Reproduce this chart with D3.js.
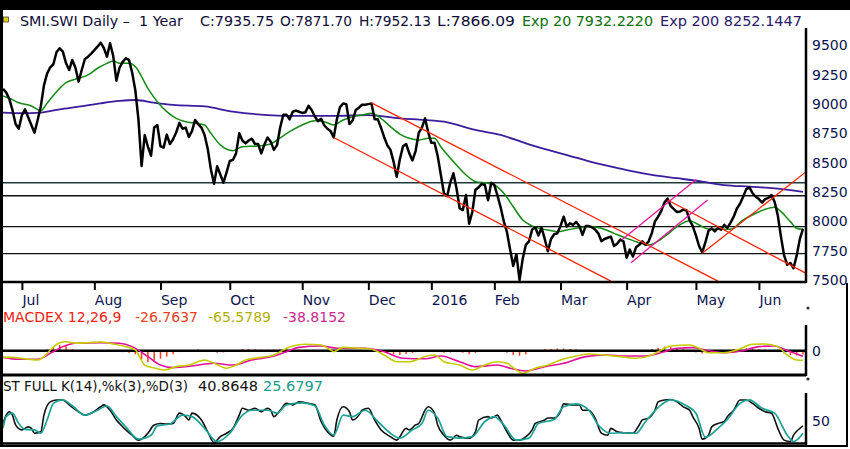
<!DOCTYPE html>
<html>
<head>
<meta charset="utf-8">
<script src="https://cdn.jsdelivr.net/npm/d3@7"></script>
<style>
  body { margin: 0; background: #fff; }
  svg { display: block; font-family: 'DejaVu Sans', Verdana, sans-serif; }
</style>
</head>
<body>
<div id="chart"></div>
<script>
// ---- data (x = trading day 0..254) ----

// daily close, one value per trading day
const closeVals = [
  9130, 9100, 9045, 8950, 8830, 8790, 8905, 8955, 8888, 8822,
  8756, 8865, 8980, 9160, 9260, 9314, 9340, 9445, 9476, 9448,
  9350, 9291, 9377, 9310, 9192, 9291, 9385, 9405, 9430, 9460,
  9490, 9524, 9480, 9405, 9519, 9410, 9200, 9310, 9360, 9391,
  9377, 9270, 9121, 8870, 8472, 8737, 8638, 8560, 8800, 8822,
  8640, 8630, 8740, 8660, 8700, 8760, 8840, 8790, 8800, 8720,
  8770, 8865, 8830, 8800, 8737, 8620, 8445, 8320, 8470, 8400,
  8330, 8420, 8515, 8524, 8580, 8751, 8690, 8665, 8690, 8705,
  8660, 8660, 8580, 8655, 8715, 8680, 8610, 8650, 8800, 8910,
  8910, 8870, 8935, 8945, 8935, 8925, 8930, 8985, 8950, 8895,
  8855, 8875, 8820, 8790, 8770, 8715, 8870, 8975, 9005, 9000,
  8830, 8860, 8950, 8970, 8995, 8995, 9000, 9005, 8870, 8870,
  8800, 8720, 8650, 8612, 8510, 8381, 8530, 8640, 8660, 8580,
  8520, 8600, 8755, 8800, 8879, 8760, 8670, 8670, 8560, 8400,
  8240, 8215, 8330, 8410, 8280, 8110, 8097, 8225, 7980, 8080,
  8270, 8290, 8320, 8310, 8180, 8330, 8310, 8220, 8120, 8000,
  7910, 7760, 7620, 7720, 7500, 7680, 7800, 7830, 7930, 7950,
  7880, 7945, 7850, 7745, 7850, 7890, 7898, 7960, 8040, 7955,
  7984, 7970, 7995, 7960, 7885, 7960, 7960, 7950, 7930, 7898,
  7830, 7850, 7860, 7870, 7790, 7810, 7845, 7830, 7690, 7760,
  7700, 7780, 7800, 7830, 7800, 7830, 7900, 8000, 8040, 8090,
  8160, 8195, 8130, 8105, 8080, 8085, 8100, 8095, 8010, 7960,
  7880, 7790, 7735, 7820, 7920, 7940, 7915, 7945, 7930, 7970,
  7945, 7990, 8040, 8110, 8150, 8210, 8275, 8290, 8240, 8210,
  8190, 8160, 8190, 8200, 8225, 8165, 8050, 7870, 7710, 7630,
  7645, 7600, 7710, 7850, 7936
];

// [day, value]
const ema20 = [
  [0,9070],[2,9050],[5,9012],[9,8984],[12,8944],[14,9007],[17,9106],[20,9183],
  [24,9220],[27,9249],[30,9306],[33,9348],[35,9368],[37,9348],[40,9348],[42,9320],
  [46,9135],[49,9021],[52,8936],[55,8879],[58,8850],[61,8837],[64,8822],[66,8751],
  [69,8652],[73,8603],[76,8637],[81,8643],[85,8660],[87,8694],[91,8765],[95,8822],
  [99,8859],[102,8850],[105,8822],[108,8865],[111,8893],[114,8907],[117,8922],[120,8879],
  [123,8808],[126,8745],[129,8709],[132,8694],[135,8709],[137,8709],[139,8637],[143,8510],
  [147,8396],[150,8339],[154,8325],[156,8310],[159,8240],[162,8125],[165,8012],[168,7961],
  [173,7926],[176,7912],[179,7926],[183,7946],[187,7955],[190,7941],[194,7898],[198,7855],
  [202,7818],[205,7799],[210,7869],[214,7955],[218,8006],[221,7969],[224,7935],[229,7932],
  [231,7932],[235,8012],[239,8069],[242,8103],[245,8120],[247,8083],[250,7998],[252,7941],
  [254,7932]
];

const ema200 = [
  [0,8927],[6,8922],[12,8927],[18,8956],[24,8978],[31,9007],[37,9027],[42,9035],
  [48,9012],[54,8993],[64,8980],[73,8936],[84,8907],[94,8899],[105,8899],[116,8907],
  [126,8879],[134,8865],[140,8850],[150,8780],[158,8737],[166,8666],[173,8609],[179,8566],
  [187,8505],[191,8480],[198,8438],[206,8396],[214,8368],[222,8339],[229,8310],[237,8296],
  [245,8282],[254,8252]
];

// support / resistance levels
const hLevels = [8330, 8218, 7955, 7725];

// trend lines [day1, value1, day2, value2]
const redLines = [
  [105, 8715, 193, 7490],
  [117, 9010, 227, 7491],
  [211, 8182, 255, 7557],
  [222, 7728, 255, 8424]
];
const pinkLines = [
  [196.4, 7841, 220, 8356],
  [199.4, 7648, 223.7, 8182]
];

const priceTicks = [7500, 7750, 8000, 8250, 8500, 8750, 9000, 9250, 9500];
const monthDays = [6, 29, 50, 72, 95, 116, 136, 156, 177, 198, 220, 240];
const monthLabels = ['Jul','Aug','Sep','Oct','Nov','Dec','2016','Feb','Mar','Apr','May','Jun'];

// MACD (12,26,9)
const macd = [
  [0,-46],[3,-46],[8,-59],[11,-64],[13,-41],[15,5],[18,55],[20,62],[23,51],[27,55],
  [31,60],[35,46],[39,28],[42,5],[45,-99],[48,-120],[51,-133],[55,-110],[59,-99],[64,-64],
  [67,-87],[71,-121],[74,-99],[77,-64],[82,-46],[86,-30],[89,5],[92,32],[96,44],[101,39],
  [104,5],[105,-7],[108,23],[113,17],[117,10],[121,-30],[125,-76],[129,-76],[134,-40],[137,-30],
  [140,-76],[145,-99],[149,-133],[153,-99],[157,-76],[160,-87],[163,-133],[165,-156],[169,-121],[173,-99],
  [177,-64],[182,-37],[186,-23],[191,-30],[196,-41],[201,-52],[206,-30],[209,5],[212,32],[218,39],
  [221,17],[224,-14],[229,-14],[233,5],[238,44],[242,46],[246,28],[249,-30],[252,-64],[254,-66]
];
const signal = [
  [0,-46],[5,-59],[11,-59],[15,-18],[19,28],[23,51],[31,55],[37,51],[41,28],[46,-41],
  [50,-99],[54,-117],[60,-106],[67,-87],[73,-99],[79,-64],[86,-37],[90,-7],[94,23],[101,32],
  [106,17],[111,17],[115,17],[121,-7],[127,-52],[134,-56],[139,-37],[145,-76],[150,-110],[157,-99],
  [161,-121],[166,-140],[172,-110],[178,-87],[185,-41],[191,-30],[198,-37],[204,-37],[210,-7],[214,17],
  [219,21],[223,5],[229,-14],[235,0],[240,28],[245,32],[248,10],[252,-23],[254,-39]
];
// histogram, every second trading day (day 0, 2, 4 ...)
const histVals = [
  -3, -4, -5, -4, -2, 1, 3, 10, 25, 40, 30, 12, 5, 3, 4, 2,
  1, -2, -6, -10, -15, -25, -60, -80, -70, -55, -40, -25, -10, 0, 5, 10,
  5, -5, -15, -12, -3, 5, 12, 12, 10, 8, 8, 8, 10, 12, 10, 6,
  4, 3, 0, -2, -10, -5, 3, 0, 2, 3, 2, -5, -12, -18, -25, -30,
  -22, -15, -5, 0, 2, -5, -15, -12, -10, -15, -25, -15, -5, 0, 2, -5,
  -15, -30, -35, -25, -5, 5, 12, 12, 15, 15, 12, 10, 2, 5, 0, -3,
  0, -5, -3, -8, -5, 0, 5, 12, 20, 28, 25, 18, 10, 0, -12, -20,
  -12, -5, 0, 3, 8, 12, 18, 15, 10, 8, 5, -5, -20, -30, -32, -27
];

// Stochastic full K(14) %k(3) %D(3)
const stochK = [
  [0,46],[1,63],[2,70],[3,63],[4,43],[6,33],[8,39],[9,36],[10,26],[12,29],
  [13,63],[15,90],[17,94],[19,94],[21,84],[24,70],[26,63],[28,67],[31,80],[32,84],
  [34,73],[36,53],[37,46],[39,33],[41,22],[43,12],[45,19],[46,26],[48,43],[50,46],
  [52,45],[54,46],[56,67],[58,60],[59,53],[60,67],[63,53],[65,29],[67,7],[69,19],
  [71,26],[73,36],[75,63],[76,77],[78,73],[80,77],[82,70],[84,77],[85,73],[86,60],
  [88,73],[90,87],[92,84],[94,90],[97,87],[99,84],[101,50],[103,29],[105,20],[106,53],
  [108,80],[110,70],[111,53],[113,63],[114,73],[116,77],[118,53],[120,33],[123,19],[125,12],
  [128,36],[129,33],[131,43],[132,46],[134,73],[135,80],[137,67],[138,43],[140,22],[142,12],
  [144,22],[145,19],[148,16],[150,29],[151,53],[154,60],[155,57],[157,63],[158,53],[160,29],
  [162,12],[164,12],[166,19],[168,33],[169,46],[172,53],[173,57],[175,57],[177,70],[178,86],
  [181,84],[183,84],[184,73],[186,73],[188,57],[190,26],[192,22],[193,36],[195,29],[197,27],
  [200,26],[202,43],[203,53],[205,57],[207,73],[208,90],[210,94],[212,95],[214,90],[216,80],
  [218,73],[219,60],[221,36],[222,14],[224,22],[225,39],[227,46],[229,50],[230,60],[232,73],
  [234,94],[236,94],[238,87],[240,77],[242,70],[244,67],[246,36],[248,12],[250,9],[251,22],
  [253,36],[254,41]
];
const stochD = [
  [0,36],[1,60],[3,67],[5,46],[7,34],[10,33],[12,26],[14,53],[16,87],[19,94],
  [22,82],[26,63],[30,73],[33,82],[36,60],[39,39],[43,14],[47,22],[49,41],[53,45],
  [57,63],[60,60],[64,36],[68,9],[72,26],[76,63],[79,73],[84,73],[87,67],[90,84],
  [95,88],[99,82],[102,43],[105,22],[108,63],[111,60],[115,73],[119,50],[123,26],[126,16],
  [130,33],[133,46],[135,73],[138,57],[141,19],[145,16],[149,19],[153,50],[156,60],[159,43],
  [163,12],[167,16],[170,46],[175,54],[178,80],[182,86],[186,73],[189,43],[193,26],[197,27],
  [201,26],[204,50],[209,84],[212,94],[217,82],[220,67],[223,18],[227,36],[230,54],[234,87],
  [237,94],[241,77],[245,67],[249,22],[251,9],[254,26]
];

// ---- drawing ----
const W = 850, H = 449;
const svg = d3.select('#chart').append('svg').attr('width', W).attr('height', H);

const x = d3.scaleLinear().domain([0, 254]).range([3, 803]);
const yPrice = d3.scaleLinear().domain([7500, 9500]).range([280, 45.5]);
const yMacd = d3.scaleLinear().domain([-170, 175]).range([375.35, 325.3]);
const yStoch = d3.scaleLinear().domain([0, 100]).range([446, 397]);

const axisX = 806;
const navy = '#0b1450';

const defs = svg.append('defs');
function clip(id, x0, y0, w, h) {
  defs.append('clipPath').attr('id', id)
    .append('rect').attr('x', x0).attr('y', y0).attr('width', w).attr('height', h);
}
clip('clipPrice', 3, 10, axisX - 3, 272);
clip('clipMacd', 3, 326, axisX - 3, 48);
clip('clipStoch', 3, 393, axisX - 3, 50);

// frame
svg.append('rect').attr('x', 0).attr('y', 0).attr('width', W).attr('height', 10).attr('fill', '#000');
svg.append('rect').attr('x', 0).attr('y', 0).attr('width', 3).attr('height', 447).attr('fill', '#000');
svg.append('rect').attr('x', 0).attr('y', 445).attr('width', 848).attr('height', 2).attr('fill', '#000');
svg.append('rect').attr('x', 846).attr('y', 283).attr('width', 2).attr('height', 164).attr('fill', '#000');

// header: text, left x, width, colour
svg.append('rect').attr('x', 3.5).attr('y', 17).attr('width', 5).attr('height', 5)
  .attr('fill', '#e0d000').attr('stroke', '#444').attr('stroke-width', 0.8);
const header = [
  ['SMI.SWI Daily \u2013  1 Year', 20, 163, '#0d0d35'],
  ['C:7935.75', 200, 74, '#0d0d35'],
  ['O:7871.70', 280, 72, '#0d0d35'],
  ['H:7952.13', 359, 72, '#0d0d35'],
  ['L:7866.09', 437, 78, '#0d0d35'],
  ['Exp 20 7932.2220', 522, 131, '#0a700a'],
  ['Exp 200 8252.1447', 660, 142, '#2a1868']
];
svg.selectAll('text.hdr').data(header).join('text').attr('class', 'hdr')
  .attr('x', d => d[1]).attr('y', 26)
  .style('white-space', 'pre')
  .attr('textLength', d => d[2]).attr('lengthAdjust', 'spacingAndGlyphs')
  .attr('font-size', 13.5).attr('fill', d => d[3]).text(d => d[0]);

// ---- price panel ----
const gPrice = svg.append('g').attr('clip-path', 'url(#clipPrice)');

gPrice.selectAll('line.level').data(hLevels).join('line').attr('class', 'level')
  .attr('x1', 3).attr('x2', axisX)
  .attr('y1', d => yPrice(d)).attr('y2', d => yPrice(d))
  .attr('stroke', (d, i) => i === 0 ? '#1e3a3a' : '#111')
  .attr('stroke-width', 1.4);

const pairLine = (ys, curve) => d3.line().x(d => x(d[0])).y(d => ys(d[1])).curve(curve);

gPrice.append('path').datum(ema200)
  .attr('d', pairLine(yPrice, d3.curveMonotoneX))
  .attr('fill', 'none').attr('stroke', '#3b1c9c').attr('stroke-width', 1.8);

gPrice.append('path').datum(ema20)
  .attr('d', pairLine(yPrice, d3.curveMonotoneX))
  .attr('fill', 'none').attr('stroke', '#138a13').attr('stroke-width', 1.5);

gPrice.append('path').datum(closeVals)
  .attr('d', d3.line().x((d, i) => x(i)).y(d => yPrice(d)))
  .attr('fill', 'none').attr('stroke', '#000')
  .attr('stroke-width', 2.5).attr('stroke-linejoin', 'round');

function trend(data, color) {
  gPrice.selectAll(null).data(data).join('line')
    .attr('x1', d => x(d[0])).attr('y1', d => yPrice(d[1]))
    .attr('x2', d => x(d[2])).attr('y2', d => yPrice(d[3]))
    .attr('stroke', color).attr('stroke-width', 1.3);
}
trend(redLines, '#ff2200');
trend(pinkLines, '#e8159c');

// right axis (price)
svg.append('line').attr('x1', axisX).attr('x2', axisX).attr('y1', 28).attr('y2', 283)
  .attr('stroke', '#000').attr('stroke-width', 2.5);
const yAx = svg.append('g').attr('transform', `translate(${axisX},0)`)
  .call(d3.axisRight(yPrice).tickValues(priceTicks).tickFormat(d3.format('d'))
    .tickSize(0).tickPadding(6));
yAx.select('.domain').remove();
yAx.selectAll('text').attr('font-size', 14).attr('fill', navy)
  .attr('font-family', "'DejaVu Sans', Verdana, sans-serif");

// bottom axis (months)
const xAx = svg.append('g').attr('transform', 'translate(0,282)')
  .call(d3.axisBottom(x).tickValues(monthDays)
    .tickFormat((d, i) => monthLabels[i]).tickSize(8).tickSizeOuter(0));
xAx.select('.domain').attr('d', `M0,0H${axisX}`).attr('stroke-width', 2.5);
xAx.selectAll('.tick line').attr('stroke-width', 2);
xAx.selectAll('text').attr('font-size', 14).attr('fill', navy)
  .attr('font-family', "'DejaVu Sans', Verdana, sans-serif")
  .attr('text-anchor', 'start').attr('x', 0).attr('y', 23).attr('dy', 0);

// ---- MACD panel ----
const macdLabels = [
  ['MACDEX 12,26,9', 3, '#f0200f'],
  ['-26.7637', 135, '#e8401e'],
  ['-65.5789', 208, '#b0b000'],
  ['-38.8152', 283, '#c62a8e']
];
svg.selectAll('text.macdl').data(macdLabels).join('text').attr('class', 'macdl')
  .attr('x', d => d[1]).attr('y', 322).attr('font-size', 14)
  .attr('fill', d => d[2]).text(d => d[0]);

const gMacd = svg.append('g').attr('clip-path', 'url(#clipMacd)');
gMacd.selectAll('line.hist').data(histVals).join('line').attr('class', 'hist')
  .attr('x1', (d, k) => x(k * 2)).attr('x2', (d, k) => x(k * 2))
  .attr('y1', yMacd(0)).attr('y2', d => yMacd(d))
  .attr('stroke', '#ff3c14').attr('stroke-width', 1.5);
gMacd.append('line').attr('x1', 3).attr('x2', axisX)
  .attr('y1', yMacd(0)).attr('y2', yMacd(0))
  .attr('stroke', '#000').attr('stroke-width', 2.5);
gMacd.append('path').datum(signal)
  .attr('d', pairLine(yMacd, d3.curveMonotoneX))
  .attr('fill', 'none').attr('stroke', '#e0109a').attr('stroke-width', 1.6);
gMacd.append('path').datum(macd)
  .attr('d', pairLine(yMacd, d3.curveMonotoneX))
  .attr('fill', 'none').attr('stroke', '#c4cc00').attr('stroke-width', 1.6);

svg.append('line').attr('x1', 0).attr('x2', axisX).attr('y1', 375).attr('y2', 375)
  .attr('stroke', '#000').attr('stroke-width', 3);
svg.append('line').attr('x1', axisX).attr('x2', axisX).attr('y1', 325).attr('y2', 376)
  .attr('stroke', '#000').attr('stroke-width', 2.5);
svg.selectAll('circle.mk').data([308, 379]).join('circle').attr('class', 'mk')
  .attr('cx', 808).attr('cy', d => d).attr('r', 1.6).attr('fill', '#333');
const mAx = svg.append('g').attr('transform', `translate(${axisX},0)`)
  .call(d3.axisRight(yMacd).tickValues([0]).tickSize(0).tickPadding(6));
mAx.select('.domain').remove();
mAx.selectAll('text').attr('font-size', 14).attr('fill', navy)
  .attr('font-family', "'DejaVu Sans', Verdana, sans-serif");

// ---- Stochastic panel ----
const stochLabels = [
  ['ST FULL K(14),%k(3),%D(3)', 3, 185, '#111'],
  ['40.8648', 198, 60, '#111'],
  ['25.6797', 263, 60, '#179b8e']
];
svg.selectAll('text.stl').data(stochLabels).join('text').attr('class', 'stl')
  .attr('x', d => d[1]).attr('y', 391).attr('font-size', 14)
  .attr('textLength', d => d[2]).attr('lengthAdjust', 'spacingAndGlyphs')
  .attr('fill', d => d[3]).text(d => d[0]);

const gStoch = svg.append('g').attr('clip-path', 'url(#clipStoch)');
gStoch.append('path').datum(stochK)
  .attr('d', pairLine(yStoch, d3.curveMonotoneX))
  .attr('fill', 'none').attr('stroke', '#111').attr('stroke-width', 1.6);
gStoch.append('path').datum(stochD)
  .attr('d', pairLine(yStoch, d3.curveMonotoneX))
  .attr('fill', 'none').attr('stroke', '#1aa296').attr('stroke-width', 1.7);

svg.append('line').attr('x1', 0).attr('x2', axisX).attr('y1', 443.5).attr('y2', 443.5)
  .attr('stroke', '#000').attr('stroke-width', 2.5);
svg.append('line').attr('x1', axisX).attr('x2', axisX).attr('y1', 393).attr('y2', 445)
  .attr('stroke', '#000').attr('stroke-width', 2.5);
const sAx = svg.append('g').attr('transform', `translate(${axisX},0)`)
  .call(d3.axisRight(yStoch).tickValues([50]).tickSize(0).tickPadding(6));
sAx.select('.domain').remove();
sAx.selectAll('text').attr('font-size', 14).attr('fill', navy)
  .attr('font-family', "'DejaVu Sans', Verdana, sans-serif");
</script>
</body>
</html>
